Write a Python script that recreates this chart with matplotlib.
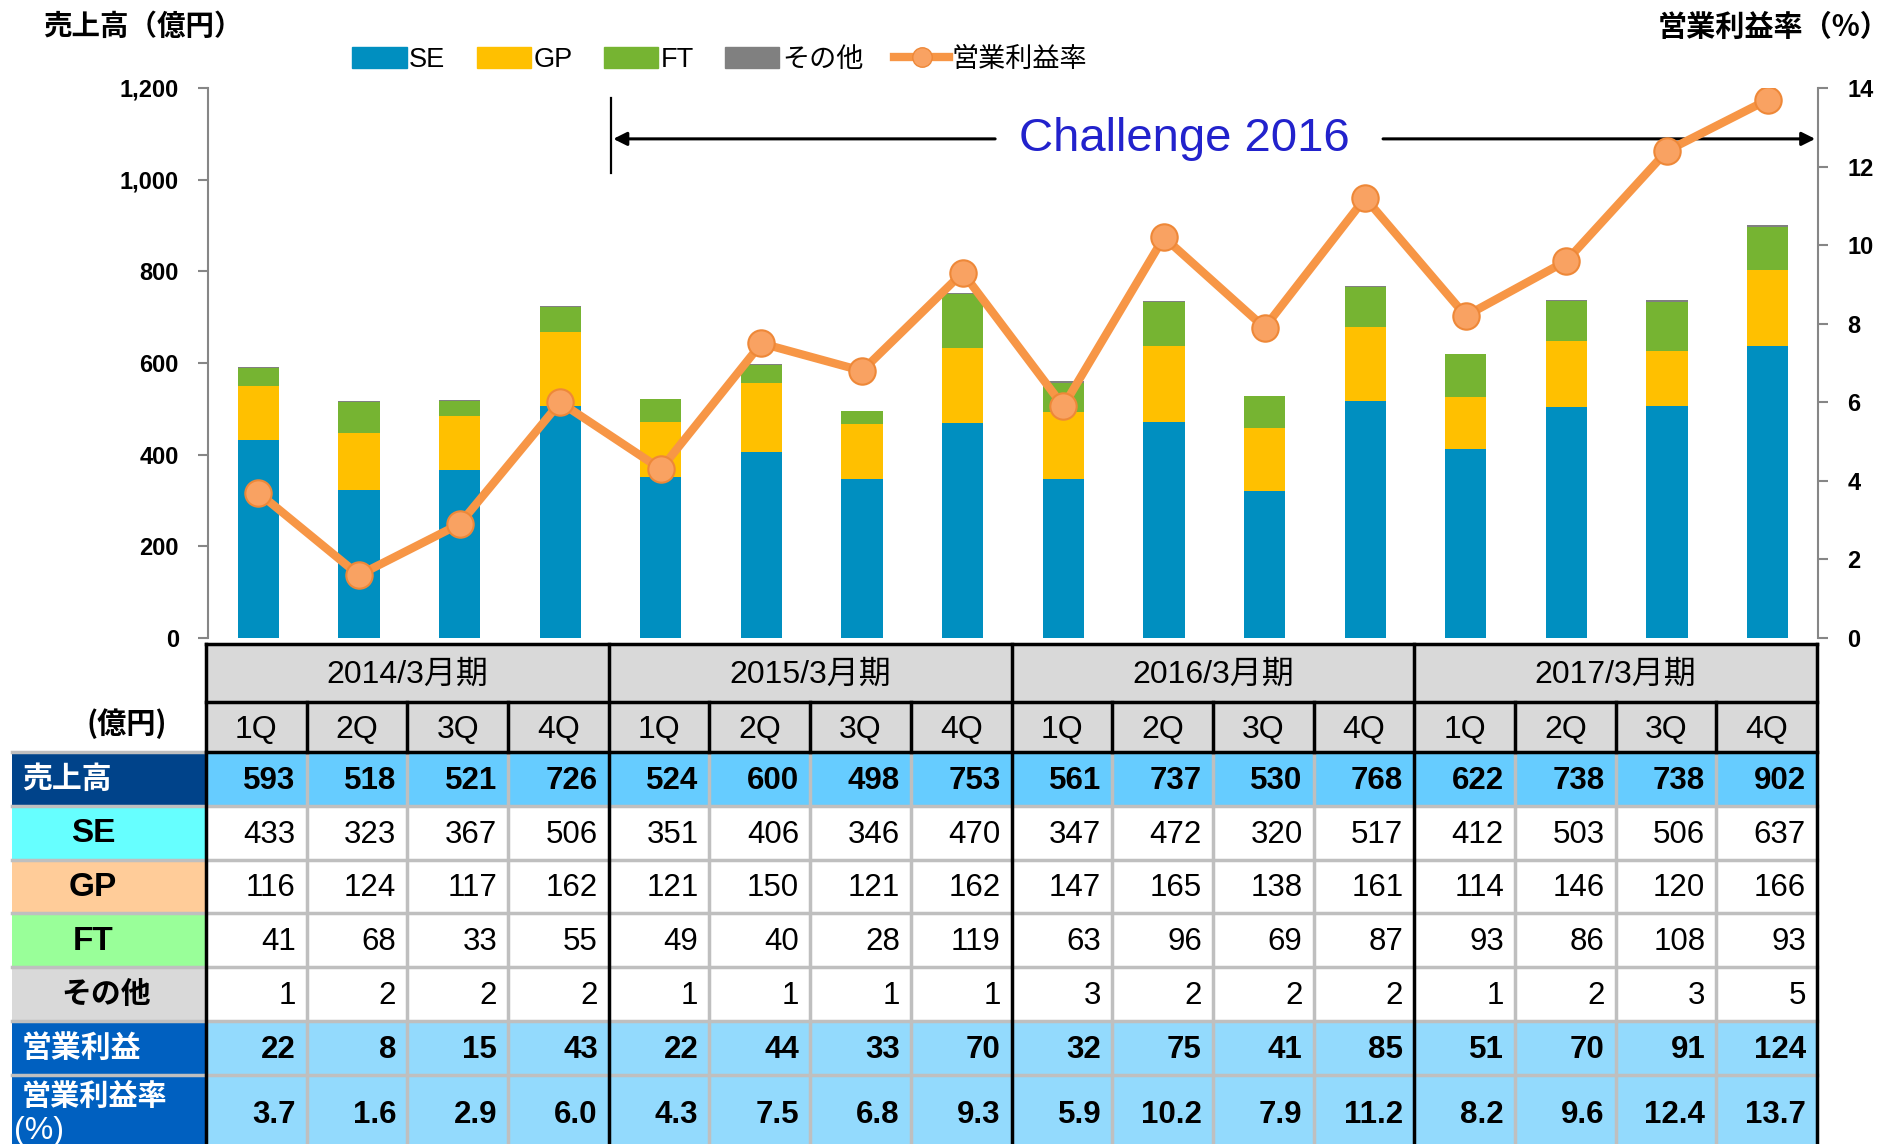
import matplotlib
matplotlib.use('Agg')
import matplotlib.pyplot as plt
from matplotlib.patches import Rectangle, Patch
from matplotlib.lines import Line2D
import numpy as np

# --- data (億円) ---
years = ['2014/3月期', '2015/3月期', '2016/3月期', '2017/3月期']
quarters = ['1Q', '2Q', '3Q', '4Q'] * 4
sales = [593, 518, 521, 726, 524, 600, 498, 753, 561, 737, 530, 768, 622, 738, 738, 902]
se = [433, 323, 367, 506, 351, 406, 346, 470, 347, 472, 320, 517, 412, 503, 506, 637]
gp = [116, 124, 117, 162, 121, 150, 121, 162, 147, 165, 138, 161, 114, 146, 120, 166]
ft = [41, 68, 33, 55, 49, 40, 28, 119, 63, 96, 69, 87, 93, 86, 108, 93]
other = [1, 2, 2, 2, 1, 1, 1, 1, 3, 2, 2, 2, 1, 2, 3, 5]
op_profit = [22, 8, 15, 43, 22, 44, 33, 70, 32, 75, 41, 85, 51, 70, 91, 124]
op_margin = [3.7, 1.6, 2.9, 6.0, 4.3, 7.5, 6.8, 9.3, 5.9, 10.2, 7.9, 11.2, 8.2, 9.6, 12.4, 13.7]

C_SE = '#008FC0'
C_GP = '#FFC000'
C_FT = '#76B432'
C_OT = '#808080'
C_LINE = '#F79646'

NUM_FONT = ['Liberation Sans', 'Noto Sans CJK JP']
NARROW = ['Liberation Sans Narrow', 'Liberation Sans', 'Noto Sans CJK JP']
JP_FONT = ['Noto Sans CJK JP', 'Liberation Sans']

W, H = 1894, 1144
fig = plt.figure(figsize=(W / 100, H / 100), dpi=100)

# main chart area (pixel layout of the reference)
ax_l, ax_r, ax_b, ax_t = 208, 1818, 638, 88
ax = fig.add_axes([ax_l / W, 1 - ax_b / H, (ax_r - ax_l) / W, (ax_b - ax_t) / H])
ax2 = ax.twinx()

x = np.arange(len(sales))
bw = 0.41
ax.bar(x, se, bw, color=C_SE, zorder=2)
ax.bar(x, gp, bw, bottom=se, color=C_GP, zorder=2)
b2 = np.array(se) + np.array(gp)
ax.bar(x, ft, bw, bottom=b2, color=C_FT, zorder=2)
b3 = b2 + np.array(ft)
ax.bar(x, other, bw, bottom=b3, color=C_OT, zorder=2)

ax.set_xlim(-0.5, 15.5)
ax.set_ylim(0, 1200)
ax.set_yticks(range(0, 1201, 200))
ax.set_yticklabels([f'{v:,}' for v in range(0, 1201, 200)])
ax.set_xticks([])
ax2.set_ylim(0, 14)
ax2.set_yticks(range(0, 15, 2))

for a in (ax, ax2):
    for s in ('top', 'bottom'):
        a.spines[s].set_visible(False)
    a.spines['left'].set_color('#868686')
    a.spines['right'].set_color('#868686')
    a.spines['left'].set_linewidth(1.5)
    a.spines['right'].set_linewidth(1.5)
    a.tick_params(axis='y', direction='out', length=7, width=1.5, color='#868686', pad=14)
    for lab in a.get_yticklabels():
        lab.set_fontfamily(NARROW)
        lab.set_fontweight('bold')
        lab.set_fontsize(17)
ax.spines['right'].set_visible(False)
ax2.spines['left'].set_visible(False)

ax2.plot(x, op_margin, color=C_LINE, lw=6, marker='o', markersize=19,
         markerfacecolor='#F9A262', markeredgecolor='#EE8838', markeredgewidth=1.5,
         zorder=4, solid_capstyle='round')

# Challenge 2016 arrow
ay = 1089
ax.plot([3.5, 3.5], [1015, 1178], color='black', lw=1.6, zorder=3, clip_on=False)
ax.annotate('', xy=(3.5, ay), xytext=(7.35, ay),
            arrowprops=dict(arrowstyle='-|>', color='black', lw=2.2, mutation_scale=20), zorder=3)
ax.annotate('', xy=(15.5, ay), xytext=(11.15, ay),
            arrowprops=dict(arrowstyle='-|>', color='black', lw=2.2, mutation_scale=20), zorder=3,
            annotation_clip=False)
ax.text(9.2, ay, 'Challenge 2016', color='#2222CC', fontsize=34, family=NUM_FONT,
        ha='center', va='center', zorder=3)

# axis titles
fig.text(43 / W, 1 - 27 / H, '売上高（億円）', family=JP_FONT, fontweight='bold', fontsize=20.5,
         ha='left', va='center')
fig.text(1890 / W, 1 - 27 / H, '営業利益率（%）', family=JP_FONT, fontweight='bold', fontsize=21,
         ha='right', va='center')

# legend
handles = [Patch(color=C_SE, label='SE'), Patch(color=C_GP, label='GP'),
           Patch(color=C_FT, label='FT'), Patch(color=C_OT, label='その他'),
           Line2D([0], [0], color=C_LINE, lw=6, marker='o', markersize=14,
                  markerfacecolor='#F9A262', markeredgecolor='#EE8838', label='営業利益率')]
fig.legend(handles=handles, loc='center left', bbox_to_anchor=(328 / W, 1 - 60 / H),
           ncol=5, frameon=False, prop={'family': NARROW, 'size': 19.5},
           handlelength=2.0, handleheight=0.8, handletextpad=0.1, columnspacing=1.15)

# --- table ---
tab = fig.add_axes([0, 0, 1, 1], zorder=-1)
tab.set_xlim(0, W)
tab.set_ylim(H, 0)
tab.axis('off')

lx0 = 12
cx0 = 206
cw = (1817 - cx0) / 16
rows_y = [644, 702, 752, 806, 860, 913, 967, 1021, 1075, 1152]
GRAY = '#BFBFBF'

# header rows
tab.add_patch(Rectangle((cx0, rows_y[0]), 16 * cw, rows_y[2] - rows_y[0], color='#D9D9D9', lw=0))
for k, yr in enumerate(years):
    tab.text(cx0 + (4 * k + 2) * cw, (rows_y[0] + rows_y[1]) / 2 + 2, yr, family=NUM_FONT,
             fontsize=23, ha='center', va='center')
for i, q in enumerate(quarters):
    tab.text(cx0 + (i + 0.5) * cw, (rows_y[1] + rows_y[2]) / 2 + 3, q, family=NUM_FONT,
             fontsize=23, ha='center', va='center')
tab.text(127, (rows_y[1] + rows_y[2]) / 2 - 3, '(億円)', family=JP_FONT, fontweight='bold',
         fontsize=21, ha='center', va='center')

row_defs = [
    ('売上高', '#00438A', 'white', '#66CCFF', True, sales, 'left'),
    ('SE', '#66FFFF', 'black', 'white', False, se, 'mid'),
    ('GP', '#FFCC99', 'black', 'white', False, gp, 'mid'),
    ('FT', '#99FF99', 'black', 'white', False, ft, 'mid'),
    ('その他', '#D9D9D9', 'black', 'white', False, other, 'mid2'),
    ('営業利益', '#0060C0', 'white', '#93DAFD', True, op_profit, 'left'),
    ('営業利益率', '#0060C0', 'white', '#93DAFD', True, op_margin, 'left'),
]
for r, (lab, lc, tc, dc, bold, vals, al) in enumerate(row_defs):
    y0, y1 = rows_y[r + 2], rows_y[r + 3]
    ym = (y0 + y1) / 2
    tab.add_patch(Rectangle((lx0, y0), cx0 - lx0, y1 - y0, color=lc, lw=0))
    tab.add_patch(Rectangle((cx0, y0), 16 * cw, y1 - y0, color=dc, lw=0))
    if lab == '営業利益率':
        tab.text(22, y0 + 21, lab, color=tc, family=JP_FONT, fontweight='bold', fontsize=21,
                 ha='left', va='center')
        tab.text(14, y0 + 56, '(%)', color=tc, family=NUM_FONT, fontsize=23,
                 ha='left', va='center')
        ym = y0 + 38
    elif al == 'left':
        tab.text(22, ym, lab, color=tc, family=JP_FONT, fontweight='bold', fontsize=21.5,
                 ha='left', va='center')
    elif al == 'mid':
        tab.text(93, ym + 1, lab, color=tc, family=NUM_FONT, fontweight='bold', fontsize=24,
                 ha='center', va='center')
    else:
        tab.text(106, ym, lab, color=tc, family=JP_FONT, fontweight='bold', fontsize=21.5,
                 ha='center', va='center')
    for i, v in enumerate(vals):
        s = f'{v:.1f}' if isinstance(v, float) else str(v)
        tab.text(cx0 + (i + 1) * cw - 11, ym + 2, s, family=NUM_FONT, fontsize=22.5,
                 fontweight='bold' if bold else 'normal', ha='right', va='center')

# grid lines in data area
for y in rows_y[3:-1]:
    tab.plot([lx0, cx0 + 16 * cw], [y, y], color=GRAY, lw=2.5, zorder=2)
for i in range(1, 16):
    xx = cx0 + i * cw
    if i % 4:
        tab.plot([xx, xx], [rows_y[2], H], color=GRAY, lw=2.5, zorder=2)
tab.plot([lx0, cx0], [rows_y[2], rows_y[2]], color=GRAY, lw=2.5, zorder=2)
# black frame lines
for y in rows_y[:3]:
    tab.plot([cx0, cx0 + 16 * cw], [y, y], color='black', lw=2.5, zorder=3)
for i in range(0, 17):
    xx = cx0 + i * cw
    if i % 4 == 0:
        tab.plot([xx, xx], [rows_y[0], H], color='black', lw=2.5, zorder=3)
    else:
        tab.plot([xx, xx], [rows_y[1], rows_y[2]], color='black', lw=2.5, zorder=3)

fig.savefig('out.png', dpi=100)
